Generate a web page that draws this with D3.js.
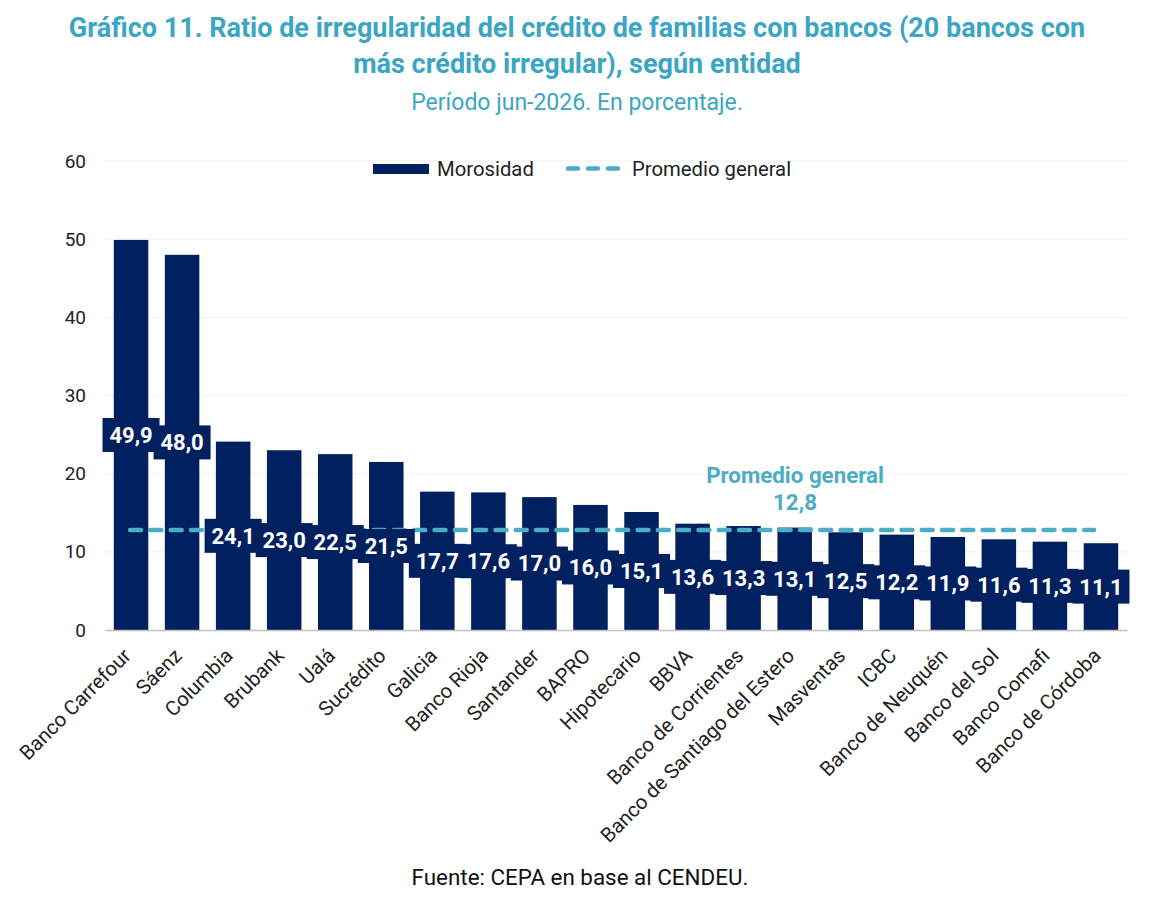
<!DOCTYPE html>
<html>
<head>
<meta charset="utf-8">
<script src="https://cdn.jsdelivr.net/npm/d3@7"></script>
<style>
  body { margin: 0; background: #fff; }
  svg { font-family: Roboto, "Noto Sans", sans-serif; }
</style>
</head>
<body>
<svg id="chart" width="1155" height="908"></svg>
<script>
var banks = ['Banco Carrefour', 'Sáenz', 'Columbia', 'Brubank', 'Ualá', 'Sucrédito', 'Galicia',
  'Banco Rioja', 'Santander', 'BAPRO', 'Hipotecario', 'BBVA', 'Banco de Corrientes',
  'Banco de Santiago del Estero', 'Masventas', 'ICBC', 'Banco de Neuquén', 'Banco del Sol',
  'Banco Comafi', 'Banco de Córdoba'];
var morosidad = [49.9, 48.0, 24.1, 23.0, 22.5, 21.5, 17.7, 17.6, 17.0, 16.0, 15.1, 13.6, 13.3,
  13.1, 12.5, 12.2, 11.9, 11.6, 11.3, 11.1];
var promedio = 12.8;
var yTicks = [0, 10, 20, 30, 40, 50, 60];

var navy = '#002060', teal = '#4bacc6', titleColor = '#3ba5c4';
var fmt = function (v) { return d3.format('.1f')(v).replace('.', ','); };

var svg = d3.select('#chart');

// titles
svg.append('text').attr('x', 577).attr('y', 37).attr('text-anchor', 'middle')
  .attr('font-size', 27).attr('font-weight', 'bold').attr('fill', titleColor)
  .text('Gráfico 11. Ratio de irregularidad del crédito de familias con bancos (20 bancos con');
svg.append('text').attr('x', 577).attr('y', 73).attr('text-anchor', 'middle')
  .attr('font-size', 27).attr('font-weight', 'bold').attr('fill', titleColor)
  .text('más crédito irregular), según entidad');
svg.append('text').attr('x', 577).attr('y', 110).attr('text-anchor', 'middle')
  .attr('font-size', 23).attr('fill', titleColor)
  .text('Período jun-2026. En porcentaje.');

var x = d3.scaleBand().domain(banks).range([105, 1127]).paddingInner(0.324).paddingOuter(0.172);
var y = d3.scaleLinear().domain([0, 60]).range([630, 161]);

// grid
svg.append('g').selectAll('line').data(yTicks.slice(1)).enter().append('line')
  .attr('x1', 105).attr('x2', 1127)
  .attr('y1', function (d) { return y(d); }).attr('y2', function (d) { return y(d); })
  .attr('stroke', '#efefef').attr('stroke-width', 1);

// y axis
var yAxis = svg.append('g').attr('transform', 'translate(86,0)')
  .call(d3.axisLeft(y).tickValues(yTicks).tickSize(0).tickPadding(0));
yAxis.select('.domain').remove();
yAxis.selectAll('text').attr('font-size', 19).attr('fill', '#222').attr('font-family', 'Roboto');

// bars
svg.append('g').selectAll('rect').data(morosidad).enter().append('rect')
  .attr('x', function (d, i) { return x(banks[i]); })
  .attr('width', x.bandwidth())
  .attr('y', function (d) { return y(d); })
  .attr('height', function (d) { return y(0) - y(d); })
  .attr('fill', navy);

// x axis
var xAxis = svg.append('g').attr('transform', 'translate(0,630)')
  .call(d3.axisBottom(x).tickSize(0).tickPadding(0));
xAxis.select('.domain').attr('stroke', '#bfbfbf').attr('stroke-width', 1.5);
xAxis.selectAll('text')
  .attr('font-size', 20.3).attr('fill', '#222').attr('font-family', 'Roboto')
  .attr('text-anchor', 'end').attr('dy', '0.35em')
  .attr('transform', 'translate(-4,22) rotate(-45)');

// average line
var first = x(banks[0]) + x.bandwidth() / 2;
var last = x(banks[banks.length - 1]) + x.bandwidth() / 2;
svg.append('line').attr('x1', first - 1).attr('x2', last - 7)
  .attr('y1', y(promedio)).attr('y2', y(promedio))
  .attr('stroke', teal).attr('stroke-width', 4.5)
  .attr('stroke-dasharray', '11,9.3').attr('stroke-linecap', 'round');

// value labels
var labels = svg.append('g').selectAll('g').data(morosidad).enter().append('g')
  .attr('transform', function (d, i) {
    return 'translate(' + (x(banks[i]) + x.bandwidth() / 2) + ',' + y(d / 2) + ')';
  });
labels.append('rect').attr('x', -28.5).attr('y', -17).attr('width', 57).attr('height', 34)
  .attr('fill', navy);
labels.append('text').attr('text-anchor', 'middle').attr('dy', '0.36em')
  .attr('font-size', 22).attr('font-weight', 'bold').attr('fill', '#fff')
  .text(function (d) { return fmt(d); });

// average annotation
svg.append('text').attr('x', 795).attr('y', 483).attr('text-anchor', 'middle')
  .attr('font-size', 22.3).attr('font-weight', 'bold').attr('fill', teal)
  .text('Promedio general');
svg.append('text').attr('x', 795).attr('y', 510).attr('text-anchor', 'middle')
  .attr('font-size', 22.3).attr('font-weight', 'bold').attr('fill', teal)
  .text(fmt(promedio));

// legend
var legend = svg.append('g');
legend.append('rect').attr('x', 373).attr('y', 164).attr('width', 56).attr('height', 10).attr('fill', navy);
legend.append('text').attr('x', 437).attr('y', 175.5).attr('font-size', 20.3).attr('fill', '#222')
  .text('Morosidad');
legend.append('line').attr('x1', 568).attr('x2', 619).attr('y1', 168.5).attr('y2', 168.5)
  .attr('stroke', teal).attr('stroke-width', 4.5).attr('stroke-dasharray', '10,10')
  .attr('stroke-linecap', 'round');
legend.append('text').attr('x', 632).attr('y', 175.5).attr('font-size', 20.3).attr('fill', '#222')
  .text('Promedio general');

// source
svg.append('text').attr('x', 580).attr('y', 885).attr('text-anchor', 'middle')
  .attr('font-size', 22.4).attr('fill', '#111')
  .text('Fuente: CEPA en base al CENDEU.');
</script>
</body>
</html>
